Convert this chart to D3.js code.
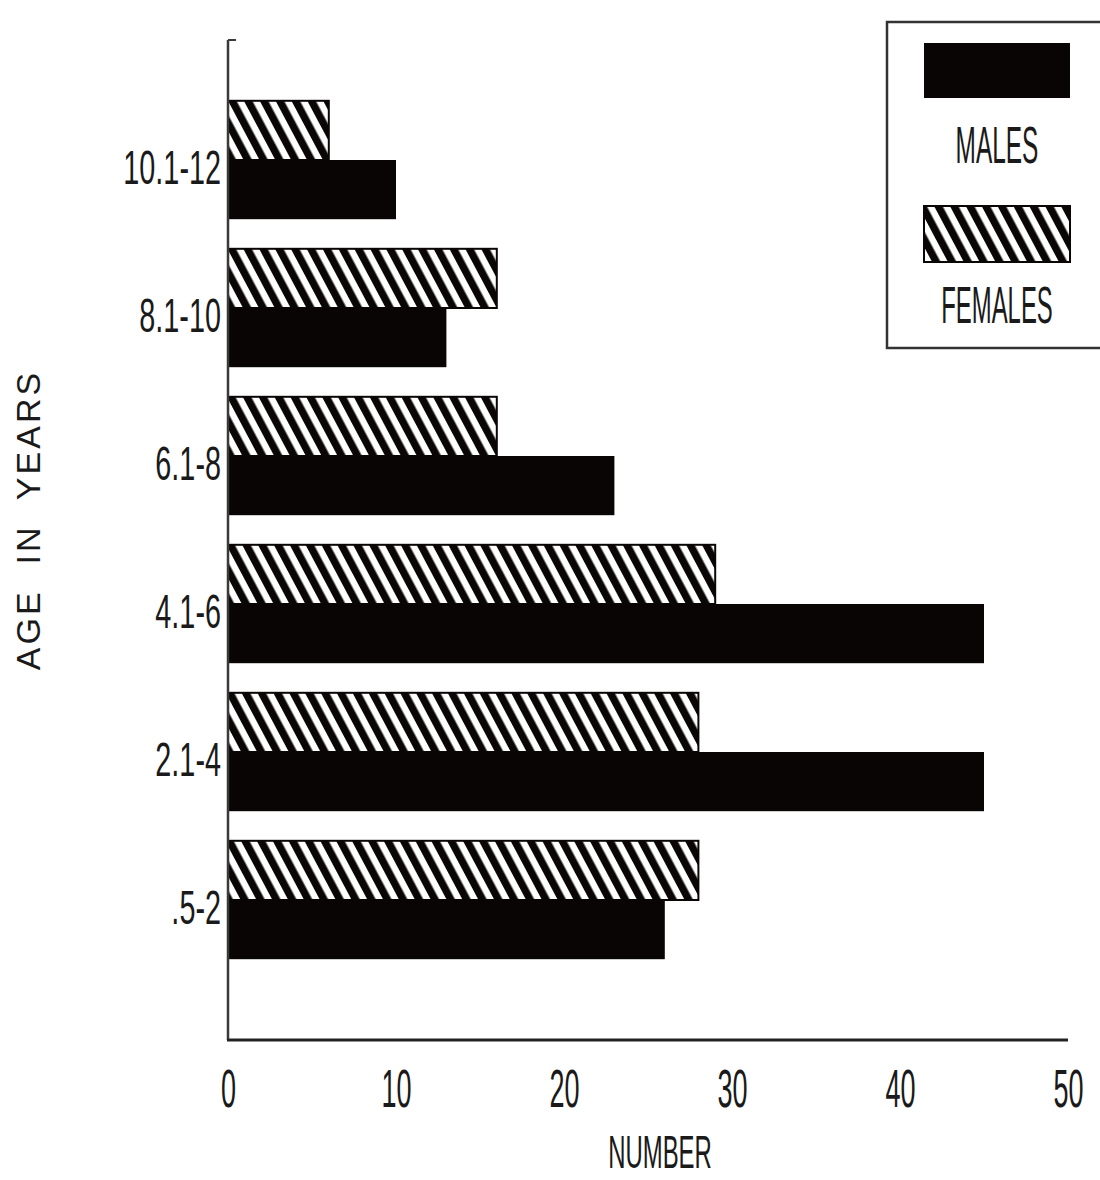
<!DOCTYPE html>
<html>
<head>
<meta charset="utf-8">
<script src="https://cdn.jsdelivr.net/npm/d3@7"></script>
<style>
  body { margin: 0; background: #fff; }
  svg text { font-family: "Liberation Sans", Arial, sans-serif; fill: #1a1a1a; }
</style>
</head>
<body>
<div id="chart"></div>
<script>
const ageGroups = ["10.1-12", "8.1-10", "6.1-8", "4.1-6", "2.1-4", ".5-2"];
const females = [6, 16, 16, 29, 28, 28];
const males = [10, 13, 23, 45, 45, 26];
const xTicks = [0, 10, 20, 30, 40, 50];

const width = 1100;
const height = 1180;
const plotLeft = 228, plotRight = 1068, plotTop = 40, plotBottom = 1040;

const svg = d3.select("#chart")
  .append("svg")
  .attr("width", width)
  .attr("height", height);

// diagonal hatch for the female bars
const defs = svg.append("defs");
defs.append("pattern")
  .attr("id", "hatch")
  .attr("patternUnits", "userSpaceOnUse")
  .attr("width", 14)
  .attr("height", 14)
  .attr("patternTransform", "rotate(-28)")
  .call(p => {
    p.append("rect").attr("width", 14).attr("height", 14).attr("fill", "#fff");
    p.append("rect").attr("width", 7.5).attr("height", 14).attr("fill", "#0a0606");
  });

const x = d3.scaleLinear().domain([0, 50]).range([plotLeft, plotRight]);
const y = d3.scaleBand()
  .domain(ageGroups)
  .range([86, 974])
  .paddingInner(0.2)
  .paddingOuter(0.1);
const half = y.bandwidth() / 2;

const rows = ageGroups.map((g, i) => ({ group: g, female: females[i], male: males[i] }));

// bars
svg.append("g")
  .selectAll("rect")
  .data(rows)
  .join("rect")
  .attr("x", x(0))
  .attr("y", d => y(d.group))
  .attr("width", d => x(d.female) - x(0))
  .attr("height", half)
  .attr("fill", "url(#hatch)")
  .attr("stroke", "#0a0606")
  .attr("stroke-width", 2);

svg.append("g")
  .selectAll("rect")
  .data(rows)
  .join("rect")
  .attr("x", x(0))
  .attr("y", d => y(d.group) + half)
  .attr("width", d => x(d.male) - x(0))
  .attr("height", half)
  .attr("fill", "#0a0505");

// axis lines
svg.append("line")
  .attr("x1", plotLeft).attr("x2", plotLeft)
  .attr("y1", plotTop).attr("y2", plotBottom)
  .attr("stroke", "#3a3a3a").attr("stroke-width", 2.5);
svg.append("line")
  .attr("x1", plotLeft).attr("x2", plotLeft + 8)
  .attr("y1", plotTop).attr("y2", plotTop)
  .attr("stroke", "#3a3a3a").attr("stroke-width", 2);
svg.append("line")
  .attr("x1", plotLeft - 1).attr("x2", plotRight)
  .attr("y1", plotBottom).attr("y2", plotBottom)
  .attr("stroke", "#222").attr("stroke-width", 3);

// x ticks
const xAxis = svg.append("g")
  .attr("transform", `translate(0,${plotBottom})`)
  .call(d3.axisBottom(x).tickValues(xTicks).tickSize(0).tickFormat(d3.format("d")));
xAxis.select(".domain").remove();
xAxis.selectAll("text")
  .attr("y", 67)
  .attr("dy", 0)
  .attr("font-size", 54)
  .attr("font-family", "Liberation Sans, Arial, sans-serif")
  .attr("fill", "#1a1a1a")
  .attr("transform", "scale(0.5,1)");

// y ticks
const yAxis = svg.append("g")
  .attr("transform", `translate(${plotLeft},0)`)
  .call(d3.axisLeft(y).tickSize(0));
yAxis.select(".domain").remove();
yAxis.selectAll("text")
  .attr("x", 0)
  .attr("dy", 0)
  .attr("y", 24)
  .attr("font-size", 48)
  .attr("font-family", "Liberation Sans, Arial, sans-serif")
  .attr("fill", "#1a1a1a")
  .attr("transform", "translate(-7,0) scale(0.6,1)");

// axis titles
svg.append("text")
  .attr("transform", "translate(660,1168) scale(0.52,1)")
  .attr("text-anchor", "middle")
  .attr("font-size", 46)
  .text("NUMBER");

svg.append("text")
  .attr("transform", "translate(40,520) rotate(-90)")
  .attr("text-anchor", "middle")
  .attr("font-size", 34)
  .attr("letter-spacing", 3)
  .style("white-space", "pre")
  .text("AGE  IN  YEARS");

// legend
const legend = svg.append("g");
legend.append("rect")
  .attr("x", 887).attr("y", 22)
  .attr("width", 240).attr("height", 326)
  .attr("fill", "none")
  .attr("stroke", "#333").attr("stroke-width", 2.5);
legend.append("rect")
  .attr("x", 924).attr("y", 43)
  .attr("width", 146).attr("height", 55)
  .attr("fill", "#0a0505");
legend.append("rect")
  .attr("x", 924).attr("y", 206)
  .attr("width", 146).attr("height", 56)
  .attr("fill", "url(#hatch)")
  .attr("stroke", "#0a0606").attr("stroke-width", 2);
legend.append("text")
  .attr("transform", "translate(997,163) scale(0.47,1)")
  .attr("text-anchor", "middle")
  .attr("font-size", 52)
  .text("MALES");
legend.append("text")
  .attr("transform", "translate(997,323) scale(0.46,1)")
  .attr("text-anchor", "middle")
  .attr("font-size", 52)
  .text("FEMALES");
</script>
</body>
</html>
